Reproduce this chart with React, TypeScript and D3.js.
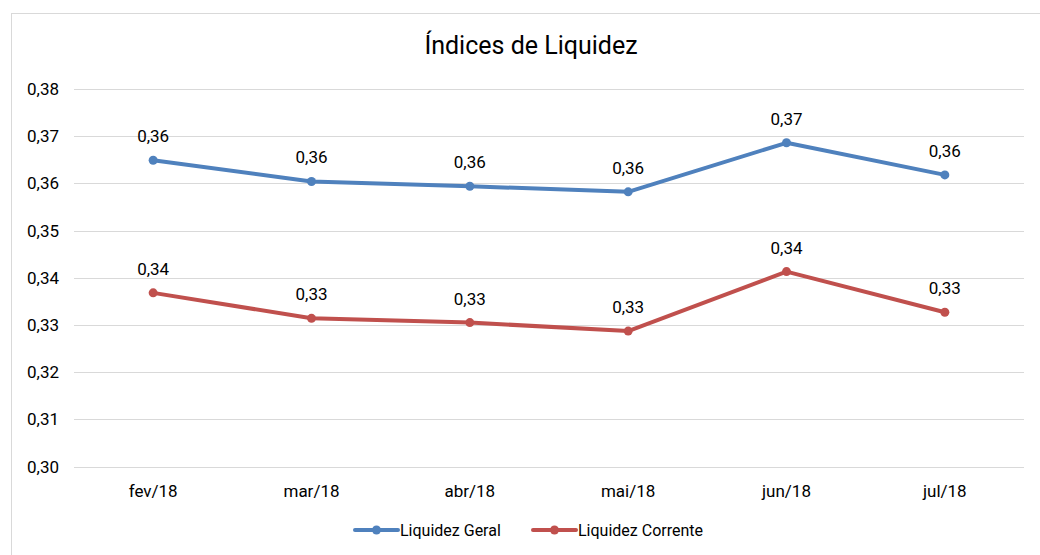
import React from "react";
import * as d3 from "d3";

const categories = ["fev/18", "mar/18", "abr/18", "mai/18", "jun/18", "jul/18"];
const liquidezGeral = [0.3649, 0.3604, 0.3594, 0.3582, 0.3686, 0.3618];
const liquidezCorrente = [0.3368, 0.3314, 0.3305, 0.3287, 0.3413, 0.3327];
const yTicks = [0.30, 0.31, 0.32, 0.33, 0.34, 0.35, 0.36, 0.37, 0.38];
const seriesNames = ["Liquidez Geral", "Liquidez Corrente"];
const seriesColors = ["#4F81BD", "#C0504D"];
const title = "Índices de Liquidez";

const W = 1040;
const H = 555;
const FONT = "Roboto, 'Liberation Sans', Arial, sans-serif";

export default function App() {
  const x = d3.scaleBand<string>().domain(categories).range([74, 1024]);
  const y = d3.scaleLinear().domain([0.30, 0.38]).range([466.5, 89]);
  const cx = (c: string) => (x(c) as number) + x.bandwidth() / 2;
  const line = d3
    .line<number>()
    .x((_, i) => cx(categories[i]))
    .y((d) => y(d));
  const fmt = (v: number) => d3.format(".2f")(v).replace(".", ",");
  const series = [liquidezGeral, liquidezCorrente];

  const legendItems = [
    { x0: 355, x1: 398, tx: 400 },
    { x0: 533, x1: 576, tx: 578 },
  ];

  return (
    <svg
      width={W}
      height={H}
      style={{ position: "absolute", left: 0, top: 0, background: "#fff" }}
      fontFamily={FONT}
    >
      <rect x={11.5} y={13.5} width={W + 20} height={H + 20} fill="#fff" stroke="#D9D9D9" strokeWidth={1} />
      <text x={531} y={54} textAnchor="middle" fontSize={25} fill="#000">
        {title}
      </text>
      {yTicks.map((t) => (
        <g key={t}>
          <line x1={74} x2={1024} y1={Math.round(y(t)) + 0.5} y2={Math.round(y(t)) + 0.5} stroke="#D9D9D9" strokeWidth={1} />
          <text x={59} y={y(t) + 6} textAnchor="end" fontSize={17} fill="#000">
            {fmt(t)}
          </text>
        </g>
      ))}
      {categories.map((c) => (
        <text key={c} x={cx(c)} y={497} textAnchor="middle" fontSize={17} fill="#000">
          {c}
        </text>
      ))}
      {series.map((s, si) => (
        <g key={si}>
          <path d={line(s) || ""} fill="none" stroke={seriesColors[si]} strokeWidth={4} strokeLinejoin="round" strokeLinecap="round" />
          {s.map((v, i) => (
            <circle key={i} cx={cx(categories[i])} cy={y(v)} r={4.5} fill={seriesColors[si]} />
          ))}
          {s.map((v, i) => (
            <text key={"l" + i} x={cx(categories[i])} y={y(v) - 18} textAnchor="middle" fontSize={17} fill="#000">
              {fmt(v)}
            </text>
          ))}
        </g>
      ))}
      {seriesNames.map((n, i) => (
        <g key={n}>
          <line x1={legendItems[i].x0} x2={legendItems[i].x1} y1={530} y2={530} stroke={seriesColors[i]} strokeWidth={4} strokeLinecap="round" />
          <circle cx={(legendItems[i].x0 + legendItems[i].x1) / 2} cy={530} r={4.5} fill={seriesColors[i]} />
          <text x={legendItems[i].tx} y={536} fontSize={16} fill="#000">
            {n}
          </text>
        </g>
      ))}
    </svg>
  );
}
